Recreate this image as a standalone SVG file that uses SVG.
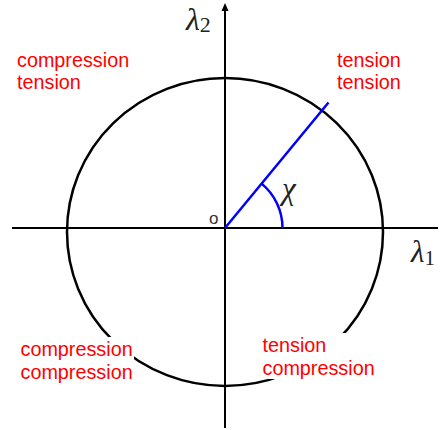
<svg xmlns="http://www.w3.org/2000/svg" width="440" height="430" viewBox="0 0 440 430">
  <style>
    .axis { stroke: #000; stroke-width: 2; fill: none; }
    .circ { stroke: #000; stroke-width: 2.5; fill: none; }
    .blue { stroke: #0000ff; stroke-width: 2.5; fill: none; }
    .lbl { font-family: "Liberation Sans", Arial, sans-serif; font-size: 19.8px; fill: #ff0000; }
    .math { font-family: "Liberation Serif", "Times New Roman", serif; font-style: italic; fill: #222; }
    .bg { fill: #fff; }
  </style>
  <rect width="440" height="430" fill="#fff"/>
  <g id="circle">
    <ellipse class="circ" cx="225" cy="232" rx="158" ry="154"/>
  </g>
  <g id="connectors">
    <line class="axis" x1="12" y1="228" x2="438" y2="228"/>
    <line class="axis" x1="225" y1="9" x2="225" y2="428"/>
    <polygon points="225,3 221.5,11 228.5,11" fill="#000"/>
    <line class="blue" x1="225" y1="228" x2="328.5" y2="102.5"/>
    <path class="blue" d="M 261.6 183.6 A 57.5 57.5 0 0 1 282.5 228"/>
  </g>
  <g id="axis-labels">
    <text class="math" x="186" y="30" font-size="32">λ<tspan font-style="normal" font-size="22" dy="2">2</tspan></text>
    <text class="math" x="411" y="262" font-size="31">λ<tspan font-style="normal" font-size="21" dy="3">1</tspan></text>
    <text class="math" x="282" y="199" font-size="31" fill="#555">χ</text>
    <text x="209" y="224" font-family="Liberation Sans, Arial, sans-serif" font-size="17" fill="#333">o</text>
  </g>
  <g id="q2">
    <text class="lbl" x="17" y="67">compression</text>
    <text class="lbl" x="17" y="89">tension</text>
  </g>
  <g id="q1">
    <text class="lbl" x="337" y="67">tension</text>
    <text class="lbl" x="337" y="89">tension</text>
  </g>
  <g id="q3">
    <rect class="bg" x="16" y="337" width="118" height="48"/>
    <text class="lbl" x="20.5" y="356">compression</text>
    <text class="lbl" x="20.5" y="379">compression</text>
  </g>
  <g id="q4">
    <rect class="bg" x="258" y="333" width="120" height="46"/>
    <text class="lbl" x="262.5" y="352">tension</text>
    <text class="lbl" x="262.5" y="375">compression</text>
  </g>
</svg>
